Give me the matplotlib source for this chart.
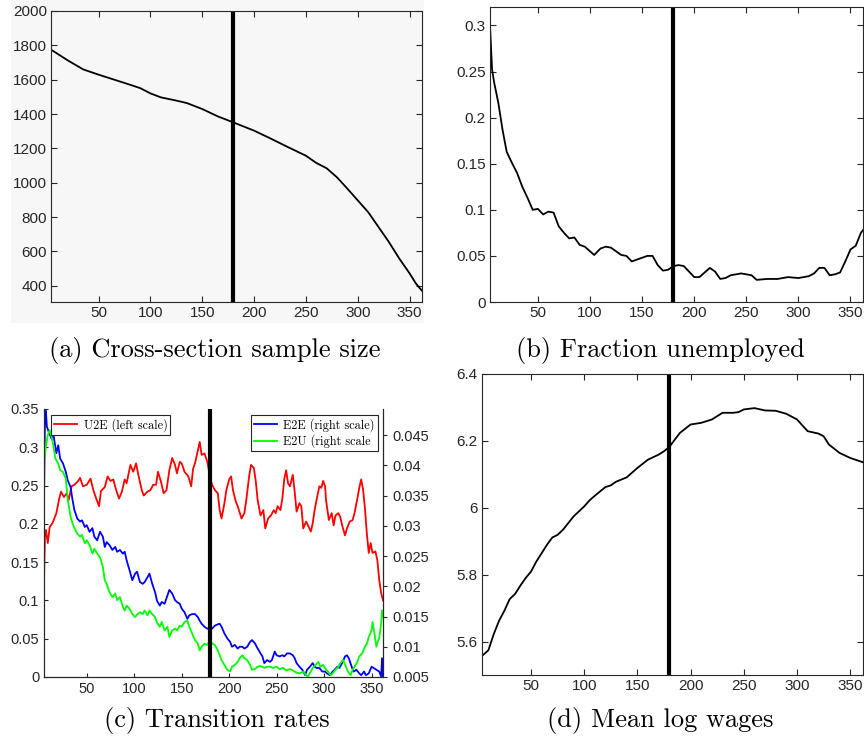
import matplotlib
matplotlib.use("Agg")
import matplotlib.pyplot as plt
from matplotlib.patches import Rectangle

# ---- (a) cross-section sample size by age (months) ----
age_a = [4, 20, 35, 50, 65, 80, 90, 100, 110, 125, 135, 150, 165, 180, 200, 215, 230,
         250, 260, 270, 280, 290, 300, 310, 320, 330, 340, 350, 356, 362]
size_a = [1775, 1713, 1660, 1629, 1600, 1571, 1551, 1520, 1497, 1478, 1464, 1429, 1386,
          1351, 1303, 1260, 1215, 1157, 1115, 1084, 1031, 965, 897, 829, 742, 655, 559,
          472, 414, 370]

# ---- (b) fraction unemployed ----
age_b = [4, 6, 8, 12, 16, 20, 25, 30, 35, 40, 45, 50, 55, 60, 65, 70, 75, 80, 85, 90,
         95, 100, 104, 110, 115, 120, 125, 130, 135, 140, 145, 150, 155, 160, 165, 170,
         175, 180, 185, 190, 195, 200, 205, 210, 215, 220, 225, 230, 235, 240, 245, 250,
         255, 260, 270, 280, 290, 300, 310, 315, 320, 325, 330, 335, 340, 345, 350, 355,
         360, 362]
unemp_b = [0.300, 0.252, 0.238, 0.216, 0.187, 0.163, 0.151, 0.140, 0.125, 0.113, 0.100,
           0.101, 0.095, 0.098, 0.097, 0.082, 0.075, 0.069, 0.070, 0.062, 0.060, 0.055,
           0.051, 0.058, 0.060, 0.059, 0.055, 0.051, 0.050, 0.044, 0.046, 0.048, 0.050,
           0.050, 0.040, 0.034, 0.035, 0.039, 0.040, 0.039, 0.033, 0.027, 0.027, 0.032,
           0.037, 0.033, 0.025, 0.026, 0.029, 0.030, 0.031, 0.030, 0.029, 0.024, 0.025,
           0.025, 0.027, 0.026, 0.028, 0.031, 0.037, 0.037, 0.029, 0.030, 0.032, 0.044,
           0.057, 0.061, 0.075, 0.078]

# ---- (c) transition rates ----
age_u2e = [5, 6, 7, 9, 11, 14, 18, 21, 23, 26, 29, 31, 34, 37, 41, 43, 46, 50, 54, 57,
           60, 63, 65, 69, 72, 75, 78, 81, 84, 87, 90, 92, 96, 99, 102, 104, 108, 110,
           114, 117, 120, 123, 125, 128, 131, 134, 137, 140, 143, 145, 148, 150, 153,
           157, 160, 162, 164, 167, 169, 171, 174, 177, 180, 182, 185, 188, 190, 192,
           195, 197, 200, 202, 204, 207, 209, 213, 216, 218, 221, 223, 226, 228, 230,
           233, 236, 238, 241, 244, 247, 249, 251, 254, 256, 258, 260, 262, 264, 267,
           269, 271, 274, 276, 278, 281, 283, 286, 288, 290, 292, 295, 297, 299, 301,
           302, 305, 308, 310, 312, 315, 317, 319, 322, 324, 327, 330, 332, 335, 337,
           339, 341, 343, 345, 347, 349, 351, 354, 356, 358, 360, 362]
u2e = [0.127, 0.185, 0.192, 0.175, 0.196, 0.201, 0.214, 0.233, 0.242, 0.235, 0.240,
       0.231, 0.249, 0.251, 0.256, 0.260, 0.249, 0.251, 0.259, 0.244, 0.233, 0.223,
       0.243, 0.248, 0.262, 0.256, 0.258, 0.244, 0.233, 0.242, 0.258, 0.253, 0.277,
       0.268, 0.279, 0.266, 0.244, 0.237, 0.242, 0.244, 0.251, 0.251, 0.268, 0.256,
       0.240, 0.244, 0.270, 0.286, 0.277, 0.266, 0.281, 0.279, 0.268, 0.262, 0.249,
       0.272, 0.279, 0.296, 0.307, 0.290, 0.292, 0.281, 0.260, 0.251, 0.244, 0.240,
       0.218, 0.207, 0.227, 0.244, 0.258, 0.262, 0.244, 0.229, 0.223, 0.207, 0.214,
       0.231, 0.262, 0.277, 0.273, 0.256, 0.231, 0.211, 0.218, 0.194, 0.207, 0.211,
       0.218, 0.214, 0.223, 0.218, 0.233, 0.258, 0.270, 0.253, 0.249, 0.264, 0.242,
       0.216, 0.227, 0.223, 0.194, 0.203, 0.198, 0.190, 0.201, 0.218, 0.231, 0.249,
       0.247, 0.256, 0.249, 0.231, 0.205, 0.214, 0.198, 0.211, 0.214, 0.209, 0.198,
       0.185, 0.194, 0.203, 0.205, 0.214, 0.233, 0.247, 0.258, 0.245, 0.220, 0.187,
       0.162, 0.175, 0.162, 0.164, 0.153, 0.127, 0.110, 0.100]

age_e2e = [5, 6, 7, 8, 10, 13, 15, 18, 20, 22, 25, 28, 30, 33, 35, 37, 40, 43, 45, 48,
           50, 53, 56, 58, 61, 64, 67, 69, 71, 74, 77, 80, 82, 85, 88, 90, 92, 95, 98,
           101, 103, 106, 109, 111, 114, 116, 119, 122, 124, 127, 129, 132, 135, 137,
           140, 143, 145, 148, 150, 153, 156, 158, 161, 164, 167, 169, 171, 174, 177,
           180, 182, 185, 188, 190, 192, 195, 198, 201, 203, 206, 209, 211, 214, 216,
           219, 222, 224, 227, 230, 232, 235, 237, 240, 243, 245, 248, 250, 253, 256,
           258, 261, 264, 267, 269, 271, 274, 277, 280, 282, 285, 288, 290, 292, 295,
           298, 301, 303, 306, 309, 311, 314, 316, 319, 322, 324, 326, 329, 331, 334,
           337, 339, 342, 344, 347, 350, 352, 355, 358, 360, 361, 362]
e2e = [0.0343, 0.0475, 0.0490, 0.0464, 0.0455, 0.0444, 0.0450, 0.0420, 0.0433, 0.0411,
       0.0403, 0.0389, 0.0375, 0.0364, 0.0343, 0.0326, 0.0312, 0.0307, 0.0309, 0.0298,
       0.0301, 0.0290, 0.0296, 0.0282, 0.0276, 0.0290, 0.0282, 0.0265, 0.0273, 0.0268,
       0.0260, 0.0265, 0.0257, 0.0260, 0.0254, 0.0257, 0.0243, 0.0227, 0.0210, 0.0221,
       0.0224, 0.0207, 0.0204, 0.0207, 0.0215, 0.0221, 0.0204, 0.0190, 0.0176, 0.0168,
       0.0174, 0.0171, 0.0185, 0.0194, 0.0188, 0.0177, 0.0174, 0.0171, 0.0163, 0.0157,
       0.0146, 0.0152, 0.0154, 0.0154, 0.0149, 0.0143, 0.0138, 0.0133, 0.0130, 0.0128,
       0.0130, 0.0135, 0.0137, 0.0138, 0.0133, 0.0122, 0.0114, 0.0108, 0.0100, 0.0103,
       0.0097, 0.0100, 0.0100, 0.0097, 0.0100, 0.0108, 0.0111, 0.0106, 0.0097, 0.0092,
       0.0084, 0.0073, 0.0078, 0.0075, 0.0078, 0.0092, 0.0086, 0.0084, 0.0086, 0.0084,
       0.0089, 0.0089, 0.0086, 0.0081, 0.0073, 0.0067, 0.0062, 0.0053, 0.0062, 0.0067,
       0.0073, 0.0067, 0.0065, 0.0065, 0.0059, 0.0059, 0.0056, 0.0053, 0.0059, 0.0062,
       0.0067, 0.0065, 0.0073, 0.0084, 0.0086, 0.0081, 0.0067, 0.0059, 0.0062, 0.0056,
       0.0053, 0.0059, 0.0053, 0.0056, 0.0067, 0.0065, 0.0062, 0.0059, 0.0051, 0.0081,
       0.0050]

age_e2u = [5, 7, 9, 11, 13, 15, 17, 20, 22, 25, 28, 30, 33, 35, 37, 40, 43, 45, 48, 50,
           53, 56, 58, 61, 64, 67, 69, 71, 74, 77, 80, 82, 85, 88, 90, 92, 95, 98, 101,
           103, 106, 109, 111, 114, 116, 119, 122, 124, 127, 129, 132, 135, 137, 140,
           143, 145, 148, 150, 153, 156, 158, 161, 164, 167, 169, 171, 174, 177, 180,
           182, 185, 188, 190, 192, 195, 198, 201, 203, 206, 209, 211, 214, 216, 219,
           222, 224, 227, 230, 232, 235, 237, 240, 243, 246, 250, 253, 257, 260, 264,
           267, 271, 274, 278, 281, 283, 286, 288, 291, 294, 296, 299, 302, 304, 307,
           309, 312, 315, 317, 320, 323, 325, 328, 330, 333, 335, 337, 340, 343, 345,
           347, 350, 351, 353, 355, 357, 358, 360, 361, 362]
e2u = [0.0406, 0.0431, 0.0450, 0.0458, 0.0447, 0.0431, 0.0411, 0.0403, 0.0392, 0.0389,
       0.0378, 0.0343, 0.0315, 0.0304, 0.0296, 0.0287, 0.0282, 0.0285, 0.0271, 0.0276,
       0.0268, 0.0254, 0.0262, 0.0254, 0.0248, 0.0232, 0.0210, 0.0204, 0.0190, 0.0182,
       0.0188, 0.0177, 0.0182, 0.0166, 0.0160, 0.0168, 0.0163, 0.0154, 0.0149, 0.0153,
       0.0157, 0.0154, 0.0160, 0.0152, 0.0160, 0.0154, 0.0149, 0.0140, 0.0133, 0.0141,
       0.0127, 0.0133, 0.0116, 0.0127, 0.0130, 0.0127, 0.0135, 0.0133, 0.0141, 0.0143,
       0.0133, 0.0122, 0.0111, 0.0105, 0.0094, 0.0100, 0.0105, 0.0103, 0.0111, 0.0105,
       0.0103, 0.0094, 0.0086, 0.0078, 0.0070, 0.0062, 0.0059, 0.0067, 0.0070, 0.0075,
       0.0081, 0.0086, 0.0081, 0.0078, 0.0070, 0.0062, 0.0063, 0.0067, 0.0068, 0.0067,
       0.0065, 0.0067, 0.0067, 0.0065, 0.0067, 0.0063, 0.0065, 0.0061, 0.0063, 0.0061,
       0.0057, 0.0056, 0.0059, 0.0053, 0.0051, 0.0059, 0.0065, 0.0070, 0.0075, 0.0067,
       0.0070, 0.0062, 0.0059, 0.0053, 0.0056, 0.0062, 0.0067, 0.0073, 0.0078, 0.0067,
       0.0059, 0.0053, 0.0062, 0.0070, 0.0075, 0.0084, 0.0089, 0.0100, 0.0105, 0.0116,
       0.0127, 0.0141, 0.0122, 0.0100, 0.0111, 0.0114, 0.0138, 0.0160, 0.0150]

# ---- (d) mean log wages ----
age_d = [4, 10, 15, 20, 25, 30, 35, 40, 45, 50, 55, 60, 65, 70, 75, 80, 85, 90, 95, 100,
         105, 110, 115, 120, 125, 130, 140, 150, 160, 170, 175, 180, 190, 200, 210, 220,
         230, 240, 245, 250, 260, 270, 280, 290, 300, 310, 320, 325, 330, 340, 350, 362]
wage_d = [5.557, 5.574, 5.622, 5.662, 5.692, 5.727, 5.742, 5.767, 5.790, 5.809, 5.839,
          5.864, 5.889, 5.911, 5.919, 5.934, 5.954, 5.974, 5.989, 6.004, 6.022, 6.036,
          6.049, 6.062, 6.067, 6.078, 6.091, 6.119, 6.144, 6.159, 6.169, 6.182, 6.224,
          6.249, 6.254, 6.264, 6.284, 6.284, 6.286, 6.294, 6.298, 6.291, 6.290, 6.281,
          6.264, 6.229, 6.222, 6.214, 6.189, 6.164, 6.149, 6.136]

cutoff = 180
xticks = [50, 100, 150, 200, 250, 300, 350]

W, H = 864, 736
fig = plt.figure(figsize=(W / 100, H / 100), dpi=100)
plt.rcParams['font.family'] = ['Liberation Sans', 'DejaVu Sans']
dark = '#262626'
cap_font = dict(family='cmr10', size=19, color='black')


def px_axes(l, t, r, b):
    return fig.add_axes([l / W, 1 - b / H, (r - l) / W, (b - t) / H])


def style(ax, size=11):
    ax.tick_params(direction='in', top=True, right=True, length=4, width=0.8,
                   labelsize=size, colors=dark, pad=3)
    for s in ax.spines.values():
        s.set_color(dark)
        s.set_linewidth(0.8)


def fmt(v):
    return ('%g' % v)


# light grey background behind panel (a)
fig.add_artist(Rectangle((11 / W, 1 - 323 / H), 413 / W, 323 / H,
                         transform=fig.transFigure, facecolor='#f7f7f7',
                         edgecolor='none', zorder=0))

# (a)
ax = px_axes(51, 11, 422, 302)
ax.set_facecolor('#f7f7f7')
ax.plot(age_a, size_a, color='black', lw=1.3)
ax.axvline(cutoff, color='black', lw=3)
ax.set_xlim(4, 362)
ax.set_ylim(305, 2000)
ax.set_xticks(xticks)
ax.set_yticks(range(400, 2001, 200))
style(ax)
fig.text(215 / W, 1 - 350 / H, '(a) Cross-section sample size', ha='center',
         va='center', **cap_font)

# (b)
ax = px_axes(490, 7, 863, 302)
ax.plot(age_b, unemp_b, color='black', lw=1.3)
ax.axvline(cutoff, color='black', lw=3)
ax.set_xlim(4, 362)
ax.set_ylim(0, 0.32)
ax.set_xticks(xticks)
yt = [0, 0.05, 0.1, 0.15, 0.2, 0.25, 0.3]
ax.set_yticks(yt)
ax.set_yticklabels([fmt(v) for v in yt])
style(ax)
fig.text(660 / W, 1 - 350 / H, '(b) Fraction unemployed', ha='center',
         va='center', **cap_font)

# (c)
ax = px_axes(44, 409, 383, 677)
ax2 = ax.twinx()
l1, = ax.plot(age_u2e, u2e, color='#ff0000', lw=1.3, label='U2E (left scale)')
l2, = ax2.plot(age_e2e, e2e, color='#0000ff', lw=1.3, label='E2E (right scale)')
l3, = ax2.plot(age_e2u, e2u, color='#00ff00', lw=1.3, label='E2U (right scale')
ax2.axvline(cutoff, color='black', lw=3)
ax.set_xlim(5, 362)
ax.set_ylim(0, 0.35)
ax2.set_ylim(0.005, 0.0493)
ax.set_xticks(xticks)
yl = [0, 0.05, 0.1, 0.15, 0.2, 0.25, 0.3, 0.35]
ax.set_yticks(yl)
ax.set_yticklabels([fmt(v) for v in yl])
yr = [0.005, 0.01, 0.015, 0.02, 0.025, 0.03, 0.035, 0.04, 0.045]
ax2.set_yticks(yr)
ax2.set_yticklabels([fmt(v) for v in yr])
for a in (ax, ax2):
    a.spines['top'].set_visible(False)
    for s in a.spines.values():
        s.set_color(dark)
        s.set_linewidth(0.8)
ax.tick_params(direction='in', length=3, width=0.8, labelsize=10.5, colors=dark,
               right=False, top=False)
ax2.tick_params(direction='out', length=3, width=0.8, labelsize=10.5, colors=dark)
leg_font = dict(family='cmr10', size=8.8)
lg1 = ax2.legend(handles=[l1], loc='upper left', bbox_to_anchor=(0.021, 0.978),
                 prop=leg_font, fancybox=False, edgecolor=dark, framealpha=1,
                 handlelength=1.9, borderpad=0.25, handletextpad=0.5,
                 borderaxespad=0)
lg1.get_frame().set_linewidth(0.8)
ax2.add_artist(lg1)
lg2 = ax2.legend(handles=[l2, l3], loc='upper right', bbox_to_anchor=(0.985, 0.978),
                 prop=leg_font, fancybox=False, edgecolor=dark, framealpha=1,
                 handlelength=1.9, borderpad=0.25, handletextpad=0.5,
                 labelspacing=0.25, borderaxespad=0)
lg2.get_frame().set_linewidth(0.8)
fig.text(217 / W, 1 - 720 / H, '(c) Transition rates', ha='center',
         va='center', **cap_font)

# (d)
ax = px_axes(482, 374, 863, 675)
ax.plot(age_d, wage_d, color='black', lw=1.3)
ax.axvline(cutoff, color='black', lw=3)
ax.set_xlim(4, 362)
ax.set_ylim(5.5, 6.4)
ax.set_xticks(xticks)
yd = [5.6, 5.8, 6.0, 6.2, 6.4]
ax.set_yticks(yd)
ax.set_yticklabels([fmt(v) for v in yd])
style(ax)
fig.text(660 / W, 1 - 720 / H, '(d) Mean log wages', ha='center',
         va='center', **cap_font)

fig.savefig('out.png', dpi=100)
